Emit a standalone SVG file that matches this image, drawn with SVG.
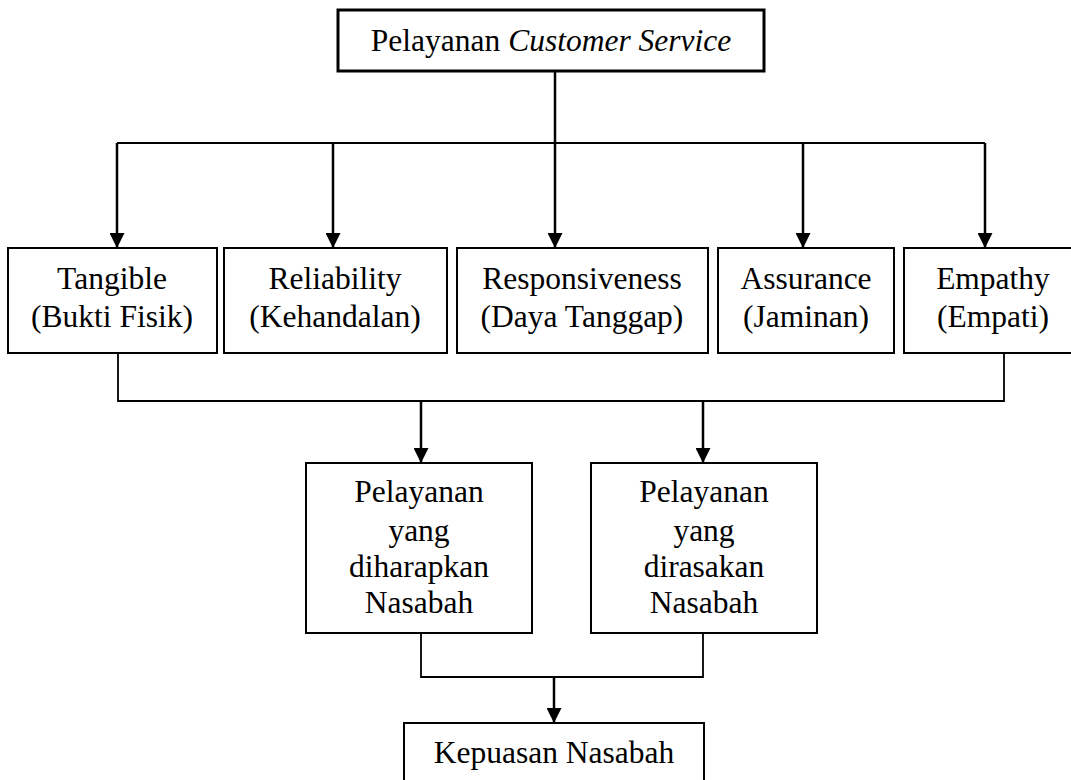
<svg xmlns="http://www.w3.org/2000/svg" width="1071" height="780" viewBox="0 0 1071 780">
<style>
.box{fill:#fff;stroke:#000;stroke-width:2}
.t{font-family:"Liberation Serif","Times New Roman",serif;font-size:31.5px;fill:#000;text-anchor:middle}
.arr{fill:none;stroke:#000;stroke-width:2.5}
.ln{fill:none;stroke:#000;stroke-width:1.8}
</style>
<defs>
<marker id="ah" viewBox="0 0 10 10" refX="10" refY="5" markerWidth="6" markerHeight="6" markerUnits="strokeWidth" orient="auto">
<path d="M0,0 L10,5 L0,10 Z" fill="#000"/>
</marker>
</defs>
<rect width="1071" height="780" fill="#fff"/>
<g id="connectors">
<path class="arr" d="M555,71 V143"/>
<path class="ln" d="M117,143 H985"/>
<path class="arr" d="M117,143 V248" marker-end="url(#ah)"/>
<path class="arr" d="M333,143 V248" marker-end="url(#ah)"/>
<path class="arr" d="M555,143 V248" marker-end="url(#ah)"/>
<path class="arr" d="M803,143 V248" marker-end="url(#ah)"/>
<path class="arr" d="M985,143 V248" marker-end="url(#ah)"/>
<path class="ln" d="M118,353 V401 H1004 V353"/>
<path class="arr" d="M421,401 V463" marker-end="url(#ah)"/>
<path class="arr" d="M703,401 V463" marker-end="url(#ah)"/>
<path class="ln" d="M421,633 V677 H703 V633"/>
<path class="arr" d="M554,677 V723" marker-end="url(#ah)"/>
</g>
<g id="top">
<rect x="338" y="10" width="426" height="61" fill="#fff" stroke="#000" stroke-width="3"/>
<text class="t" x="551" y="51">Pelayanan <tspan font-style="italic">Customer Service</tspan></text>
</g>
<g id="tangible">
<rect class="box" x="8" y="248" width="209" height="105"/>
<text class="t" x="112" y="289">Tangible</text>
<text class="t" x="112" y="327">(Bukti Fisik)</text>
</g>
<g id="reliability">
<rect class="box" x="224" y="248" width="223" height="105"/>
<text class="t" x="335" y="289">Reliability</text>
<text class="t" x="335" y="327">(Kehandalan)</text>
</g>
<g id="responsiveness">
<rect class="box" x="457" y="248" width="251" height="105"/>
<text class="t" x="582" y="289">Responsiveness</text>
<text class="t" x="582" y="327">(Daya Tanggap)</text>
</g>
<g id="assurance">
<rect class="box" x="718" y="248" width="176" height="105"/>
<text class="t" x="806" y="289">Assurance</text>
<text class="t" x="806" y="327">(Jaminan)</text>
</g>
<g id="empathy">
<rect class="box" x="904" y="248" width="170" height="105"/>
<text class="t" x="993" y="289">Empathy</text>
<text class="t" x="993" y="327">(Empati)</text>
</g>
<g id="diharapkan">
<rect class="box" x="306" y="463" width="226" height="170"/>
<text class="t" x="419" y="502">Pelayanan</text>
<text class="t" x="419" y="541">yang</text>
<text class="t" x="419" y="577">diharapkan</text>
<text class="t" x="419" y="613">Nasabah</text>
</g>
<g id="dirasakan">
<rect class="box" x="591" y="463" width="226" height="170"/>
<text class="t" x="704" y="502">Pelayanan</text>
<text class="t" x="704" y="541">yang</text>
<text class="t" x="704" y="577">dirasakan</text>
<text class="t" x="704" y="613">Nasabah</text>
</g>
<g id="kepuasan">
<rect class="box" x="404" y="723" width="300" height="70"/>
<text class="t" x="554" y="763">Kepuasan Nasabah</text>
</g>
</svg>
